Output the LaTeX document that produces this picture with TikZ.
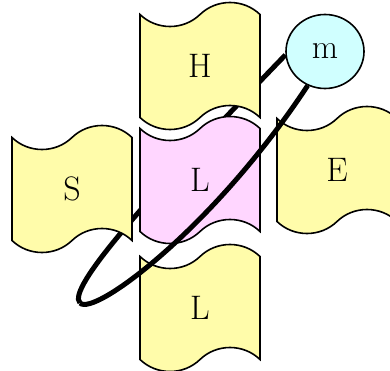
\documentclass[tikz,border=0pt]{standalone}
\usepackage{fontspec}
\usetikzlibrary{positioning,shapes.symbols,shapes.geometric,backgrounds}
\definecolor{tapeyellow}{RGB}{255,252,170}
\definecolor{tapepink}{RGB}{255,214,255}
\definecolor{mcyan}{RGB}{208,255,255}

\begin{document}
\begin{tikzpicture}[
    x=1pt, y=1pt,
    on grid,
    font=\fontsize{34}{40}\selectfont,
    tapebox/.style={tape, draw, line width=1.6pt, fill=tapeyellow, minimum width=120pt, minimum height=127pt, tape bend height=24pt, inner sep=0pt},
    loopline/.style={line width=5pt}
]
\useasboundingbox (0,0) rectangle (390,370);
\node[tapebox, fill=tapepink] (lmid) at (200,190) {L};
\node[tapebox, above=114pt of lmid] (h) {H};
\node[tapebox, below left=9pt and 128pt of lmid] (s) {S};
\node[tapebox, above right=10pt and 137pt of lmid] (e) {E};
\node[tapebox, below=128pt of lmid] (lbot) {L};
\node[ellipse, draw, line width=1.6pt, fill=mcyan, minimum width=78pt, minimum height=74pt, inner sep=0pt,
      above right=128.5pt and 125pt of lmid] (m) {m};
\coordinate (tip) at (80,67);
% loop: back half under the tapes, front half over them
\begin{scope}[on background layer]
  \draw[loopline] (m.185) .. controls +(-139,-144) and +(-14,14) .. (tip);
\end{scope}
\draw[loopline] (tip) .. controls +(14,-14) and +(-93.5,-142) .. (m.243);
\end{tikzpicture}
\end{document}
